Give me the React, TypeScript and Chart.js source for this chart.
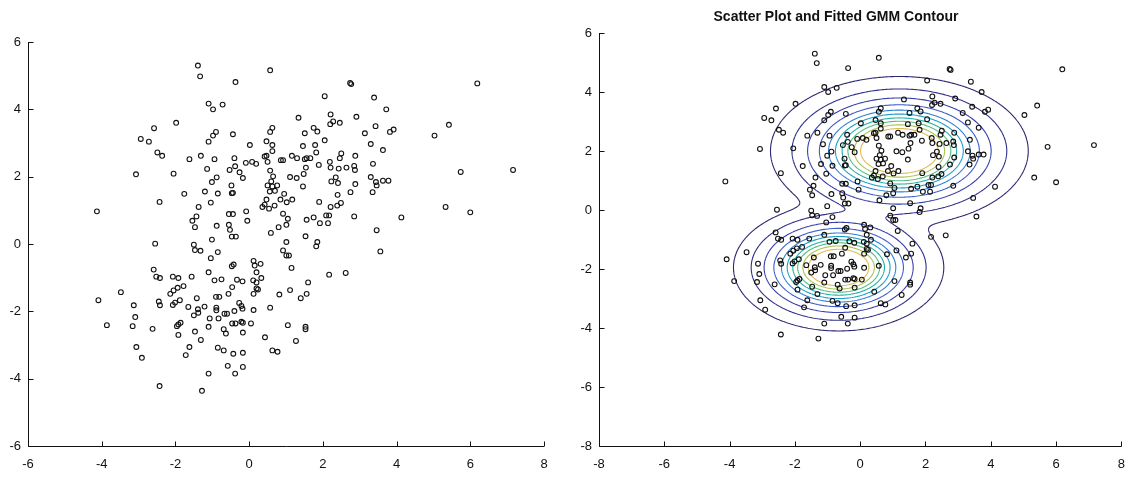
import React, { useEffect, useRef } from "react";
import { Chart, registerables } from "chart.js";

Chart.register(...registerables);

// ---- data ----
const pointsX = [
  -1.39, -1.33, -0.37, -1.10, -0.98, -0.72, -1.98, -2.58, -2.94, -2.72, -0.90, -0.98, -1.10, -0.44, -2.49, -2.36, -1.62, -1.31, -0.94, -0.40, -1.14, -0.38, -0.53, -3.07, -2.05,
  0.57, 2.74, 2.77, 2.05, 3.39, 1.34, 2.21, 2.91, 2.20, 2.28, 2.46, 3.43, 0.63, 0.57, 1.75, 1.85, 1.51, 3.14, 0.02, 0.47, 0.63, 0.63, 1.46, 1.79, 2.05, 1.82, 3.30, 0.42, 0.47, -0.09, 0.08, 0.19, 0.50, 0.86, 0.92, 1.16, 1.30, 1.51, 1.56, 1.66, 2.50, 2.46, 2.88, 2.19, 2.21, 2.43, 2.64, 2.85, 2.87, 3.36, -0.26, 0.57, 1.54, 1.89,
  3.72, 6.19, 3.82, 3.92, 5.42, 5.03, 3.63, 5.74, 7.16,
  -0.88, -1.01, -0.48, -0.47, -0.44, -1.76, -1.20, -0.85, -2.43, -1.04, -1.37, -4.13, -1.43, -1.54, -1.47, -0.55, -0.44, -0.88, -0.55, -0.52, -0.47, -0.36, -1.01, -2.55, -1.50, -1.47, -1.32, -0.85, -1.04, -0.47, -0.42, -2.59, -2.52, -2.42, -2.07, -1.92, -1.56, -1.10, -0.94, -0.75,
  -0.17, 0.65, 0.60, 0.50, 0.63, 0.76, 0.56, 0.70, 0.47, 0.42, 0.36, 0.54, 0.69, 0.95, 0.85, 1.02, 1.17, 1.11, 1.29, 1.48, 1.46, 2.23, 2.35, 2.41, 2.88, 2.40, 2.75, 3.30, 3.44, 3.35, 1.90, 2.21, 2.39, 2.49, -0.08, -0.05, 0.92, 1.05, 0.80, 1.01, 0.59, 1.56, 1.75, 1.92, 2.09, 2.17, 2.14, 2.85, 3.46, 1.53, 1.01, 1.85, 1.82, 0.92, 1.01, 1.08, 1.15, 3.56, 0.12, 0.15, 0.31, 0.20, 0.33, -0.33, -0.18, 0.11, 0.20, 2.17, 2.62, 1.60,
  3.46, 3.63, 3.78, 5.33, 6.00, 4.13,
  -3.48, -4.09, -3.86, -3.13, -3.09, -3.16, -3.06, -2.91, -2.62, -2.43, -2.45, -2.42, -2.14, -2.05, -1.94, -1.78, -2.07, -2.01, -1.88, -1.96, -1.92, -1.86, -1.92, -1.65, -1.42, -1.50, -1.38, -1.39, -1.21, -1.47, -1.62, -1.72, -1.31, -1.28, -1.10, -1.10, -1.07, -0.46, -0.90, -0.81, -0.56, -0.89, -0.89, -0.83, -0.67, -0.60, -0.40, -0.46, -0.37, -0.69, -0.63, -0.85, -0.69, -0.43, -0.58, -0.38,
  0.12, 0.20, 0.24, -0.27, -0.21, -0.18, 0.12, 0.57, 0.82, 1.11, 1.40, 1.56, -0.21, -0.17, 0.05, -0.17, 0.43, 1.05, 1.53, 1.53, 1.27, 0.63, 0.77, -0.17, -0.17,
];
const pointsY = [
  5.30, 4.98, 4.81, 4.17, 4.00, 4.14, 3.60, 3.44, 3.12, 3.04, 3.33, 3.22, 3.04, 3.26, 2.72, 2.62, 2.52, 2.62, 2.52, 2.55, 2.23, 2.31, 2.20, 2.07, 2.09,
  5.16, 4.78, 4.75, 4.39, 4.35, 3.75, 3.85, 3.78, 3.56, 3.64, 3.60, 3.50, 3.45, 3.33, 3.45, 3.34, 3.29, 3.29, 2.94, 3.05, 2.94, 2.76, 2.91, 2.94, 3.08, 2.72, 2.97, 2.60, 2.62, 2.41, 2.44, 2.38, 2.44, 2.49, 2.49, 2.62, 2.55, 2.52, 2.55, 2.55, 2.69, 2.55, 2.62, 2.44, 2.27, 2.24, 2.27, 2.32, 2.20, 2.38, 2.13, 2.18, 2.27, 2.35,
  4.00, 4.77, 3.33, 3.40, 3.54, 3.22, 2.79, 2.14, 2.20,
  1.98, 1.84, 1.74, 1.51, 1.52, 1.49, 1.56, 1.50, 1.25, 1.23, 1.10, 0.97, 0.82, 0.69, 0.50, 0.89, 0.89, 0.54, 0.57, 0.42, 0.22, 0.22, 0.13, 0.01, -0.02, -0.18, -0.20, -0.24, -0.42, -0.66, -0.61, -0.76, -0.97, -1.01, -0.97, -1.01, -0.97, -0.84, -1.08, -1.05,
  1.96, 2.01, 1.86, 1.74, 1.71, 1.74, 1.56, 1.58, 1.32, 1.17, 1.10, 1.05, 1.14, 1.49, 1.32, 1.24, 1.32, 1.99, 1.96, 2.08, 1.71, 1.86, 1.98, 1.81, 1.78, 1.46, 1.54, 1.99, 1.84, 1.54, 1.25, 1.10, 1.14, 1.22, 0.97, 0.69, 0.90, 0.75, 0.50, 0.57, 0.33, 0.72, 0.79, 0.62, 0.85, 0.85, 0.62, 0.82, 0.41, 0.23, 0.06, 0.06, -0.07, -0.19, -0.34, -0.34, -0.71, -0.22, -0.50, -0.64, -0.59, -0.84, -1.01, -1.06, -1.11, -1.08, -1.14, -0.91, -0.86, -1.14,
  1.74, 1.88, 1.88, 1.10, 0.94, 0.79,
  -1.43, -1.67, -2.41, -1.82, -2.17, -2.44, -3.06, -3.38, -2.52, -4.22, -1.71, -1.82, -1.48, -1.38, -1.30, -1.25, -1.81, -1.74, -1.67, -2.44, -2.39, -2.34, -2.70, -1.87, -1.61, -2.12, -2.04, -1.94, -1.86, -2.60, -3.06, -3.30, -2.85, -4.36, -3.85, -2.46, -2.21, -1.28, -1.57, -1.57, -1.48, -1.89, -1.97, -2.21, -2.07, -2.07, -1.99, -2.36, -2.36, -2.53, -2.66, -3.08, -3.16, -3.26, -3.62, -3.85,
  -1.48, -1.32, -1.35, -1.75, -1.84, -1.92, -1.96, -1.89, -1.50, -1.37, -1.61, -1.48, -2.31, -2.34, -2.36, -2.63, -2.77, -2.41, -2.46, -2.53, -2.88, -3.16, -3.20, -3.23, -3.65,
];

const leftXTicks = [-6, -4, -2, 0, 2, 4, 6, 8];
const leftYTicks = [-6, -4, -2, 0, 2, 4, 6];
const rightXTicks = [-8, -6, -4, -2, 0, 2, 4, 6, 8];
const rightYTicks = [-8, -6, -4, -2, 0, 2, 4, 6];

const rightTitle = "Scatter Plot and Fitted GMM Contour";

// fitted GMM (two components)
const gmmWeights = [0.6, 0.4];
const gmmMeanX = [1.2, -0.66];
const gmmMeanY = [2.0, -1.95];
const gmmVarX = [1.37, 0.92];
const gmmVarY = [0.56, 0.41];
const gmmCovXY = [0.0, 0.0];

// contour levels (density) from outer to inner, with their colours
const contourLevels = [0.00037, 0.0021, 0.0061, 0.0122, 0.0196, 0.0269, 0.0355, 0.044, 0.054, 0.065];
const contourColors = ["#2b2870", "#302f88", "#373fa8", "#3a5ccc", "#2e7fd6", "#1b9fc6", "#22afa6", "#55bc80", "#a9c256", "#e0bb52"];

const INK = "#111111";
const FONT = "'Liberation Sans', Arial, Helvetica, sans-serif";

function gmmDensity(x: number, y: number): number {
  let s = 0;
  for (let k = 0; k < gmmWeights.length; k++) {
    const sxx = gmmVarX[k], syy = gmmVarY[k], sxy = gmmCovXY[k];
    const det = sxx * syy - sxy * sxy;
    const dx = x - gmmMeanX[k], dy = y - gmmMeanY[k];
    const q = (syy * dx * dx - 2 * sxy * dx * dy + sxx * dy * dy) / det;
    s += (gmmWeights[k] * Math.exp(-0.5 * q)) / (2 * Math.PI * Math.sqrt(det));
  }
  return s;
}

const axesPlugin = {
  id: "matlabAxes",
  afterDatasetsDraw(chart: any) {
    const { ctx, chartArea, scales } = chart;
    const { left, right, top, bottom } = chartArea;
    ctx.save();
    ctx.strokeStyle = INK;
    ctx.lineWidth = 1;
    ctx.beginPath();
    ctx.moveTo(left + 0.5, top);
    ctx.lineTo(left + 0.5, bottom + 0.5);
    ctx.lineTo(right, bottom + 0.5);
    for (const t of scales.x.ticks) {
      const px = Math.round(scales.x.getPixelForValue(t.value)) + 0.5;
      ctx.moveTo(px, bottom + 0.5);
      ctx.lineTo(px, bottom - 4.5);
    }
    for (const t of scales.y.ticks) {
      const py = Math.round(scales.y.getPixelForValue(t.value)) + 0.5;
      ctx.moveTo(left + 0.5, py);
      ctx.lineTo(left + 5.5, py);
    }
    ctx.stroke();
    ctx.restore();
  },
};

const contourPlugin = {
  id: "gmmContour",
  beforeDatasetsDraw(chart: any) {
    const { ctx, chartArea, scales } = chart;
    const xs = scales.x, ys = scales.y;
    const nx = 320, ny = 280;
    const x0 = xs.min, x1 = xs.max, y0 = ys.min, y1 = ys.max;
    const gx: number[] = [], gy: number[] = [];
    for (let i = 0; i <= nx; i++) gx.push(x0 + ((x1 - x0) * i) / nx);
    for (let j = 0; j <= ny; j++) gy.push(y0 + ((y1 - y0) * j) / ny);
    const f: number[][] = [];
    for (let j = 0; j <= ny; j++) {
      const row: number[] = [];
      for (let i = 0; i <= nx; i++) row.push(gmmDensity(gx[i], gy[j]));
      f.push(row);
    }
    ctx.save();
    ctx.beginPath();
    ctx.rect(chartArea.left, chartArea.top, chartArea.right - chartArea.left, chartArea.bottom - chartArea.top);
    ctx.clip();
    ctx.lineWidth = 1.1;
    contourLevels.forEach((L, li) => {
      ctx.strokeStyle = contourColors[li];
      ctx.beginPath();
      for (let j = 0; j < ny; j++) {
        for (let i = 0; i < nx; i++) {
          const a = f[j][i], b = f[j][i + 1], c = f[j + 1][i + 1], d = f[j + 1][i];
          const pts: (number[] | null)[] = [null, null, null, null];
          const interp = (v1: number, v2: number) => (L - v1) / (v2 - v1);
          if ((a - L) * (b - L) < 0) { const t = interp(a, b); pts[0] = [gx[i] + t * (gx[i + 1] - gx[i]), gy[j]]; }
          if ((b - L) * (c - L) < 0) { const t = interp(b, c); pts[1] = [gx[i + 1], gy[j] + t * (gy[j + 1] - gy[j])]; }
          if ((c - L) * (d - L) < 0) { const t = interp(c, d); pts[2] = [gx[i + 1] - t * (gx[i + 1] - gx[i]), gy[j + 1]]; }
          if ((d - L) * (a - L) < 0) { const t = interp(d, a); pts[3] = [gx[i], gy[j + 1] - t * (gy[j + 1] - gy[j])]; }
          const found = pts.filter((p) => p !== null) as number[][];
          const seg = (p: number[], q: number[]) => {
            ctx.moveTo(xs.getPixelForValue(p[0]), ys.getPixelForValue(p[1]));
            ctx.lineTo(xs.getPixelForValue(q[0]), ys.getPixelForValue(q[1]));
          };
          if (found.length === 2) seg(found[0], found[1]);
          else if (found.length === 4) {
            const center = (a + b + c + d) / 4;
            if ((a > L) === (center > L)) { seg(pts[0]!, pts[1]!); seg(pts[2]!, pts[3]!); }
            else { seg(pts[0]!, pts[3]!); seg(pts[1]!, pts[2]!); }
          }
        }
      }
      ctx.stroke();
    });
    ctx.restore();
  },
};

const titlePlugin = {
  id: "fixedTitle",
  afterDraw(chart: any) {
    const { ctx } = chart;
    ctx.save();
    ctx.fillStyle = INK;
    ctx.font = `bold 14px ${FONT}`;
    ctx.textAlign = "center";
    ctx.textBaseline = "middle";
    ctx.fillText(rightTitle, 276, 17.5);
    ctx.restore();
  },
};

function makeScale(min: number, max: number, tickList: number[], horizontal: boolean, size: number) {
  return {
    type: "linear" as const,
    min,
    max,
    afterBuildTicks: (s: any) => { s.ticks = tickList.map((v) => ({ value: v })); },
    afterFit: (s: any) => { if (horizontal) s.height = size; else s.width = size; },
    grid: { display: false, drawTicks: false },
    border: { display: false },
    ticks: {
      color: INK,
      font: { family: FONT, size: 13 },
      padding: horizontal ? 11 : 7,
      maxRotation: 0,
      autoSkip: false,
      callback: (v: any) => String(v),
    },
  };
}

function buildConfig(withContour: boolean): any {
  const data = pointsX.map((x, i) => ({ x, y: pointsY[i] }));
  return {
    type: "scatter",
    data: {
      datasets: [
        {
          data,
          pointStyle: "circle",
          pointRadius: 2.4,
          pointHoverRadius: 2.4,
          borderWidth: 1.1,
          borderColor: INK,
          backgroundColor: "rgba(0,0,0,0)",
        },
      ],
    },
    options: {
      animation: false,
      responsive: false,
      devicePixelRatio: 1,
      events: [],
      layout: withContour
        ? { padding: { left: 0, right: 12, top: 33, bottom: 0 } }
        : { padding: { left: 0, right: 16, top: 42, bottom: 0 } },
      plugins: { legend: { display: false }, tooltip: { enabled: false }, title: { display: false } },
      scales: withContour
        ? { x: makeScale(-8, 8, rightXTicks, true, 33), y: makeScale(-8, 6, rightYTicks, false, 39) }
        : { x: makeScale(-6, 8, leftXTicks, true, 33), y: makeScale(-6, 6, leftYTicks, false, 28) },
    },
    plugins: withContour ? [contourPlugin, axesPlugin, titlePlugin] : [axesPlugin],
  };
}

export default function App() {
  const leftRef = useRef<HTMLCanvasElement>(null);
  const rightRef = useRef<HTMLCanvasElement>(null);
  useEffect(() => {
    const c1 = new Chart(leftRef.current as HTMLCanvasElement, buildConfig(false));
    const c2 = new Chart(rightRef.current as HTMLCanvasElement, buildConfig(true));
    return () => { c1.destroy(); c2.destroy(); };
  }, []);
  return (
    <div style={{ position: "fixed", left: 0, top: 0, width: 1136, height: 479, background: "#fff" }}>
      <canvas ref={leftRef} width={560} height={479} style={{ position: "absolute", left: 0, top: 0, width: 560, height: 479 }} />
      <canvas ref={rightRef} width={576} height={479} style={{ position: "absolute", left: 560, top: 0, width: 576, height: 479 }} />
    </div>
  );
}
